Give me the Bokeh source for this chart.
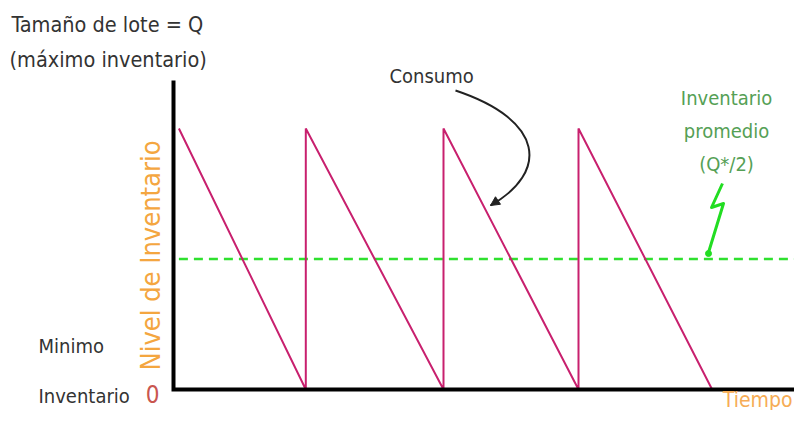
from bokeh.plotting import figure
from bokeh.models import Range1d, Arrow, NormalHead
from bokeh.core.properties import value
from bokeh.embed import file_html
from bokeh.resources import INLINE

# ---- data ----
restock_times = [0.4, 9.8, 9.8, 20.0, 20.0, 30.0, 30.0, 39.9]
inventory_levels = [100, 0, 100, 0, 100, 0, 100, 0]
avg_level = [50, 50]
avg_times = [0.4, 46.5]
axis_times = [0, 0, 46.6]
axis_levels = [118.4, 0, 0]

W, H = 794, 410
# pixel <-> data helpers (image pixel coordinates for annotations)
X0, PXT = 173.0, 13.5      # x pixel at t=0, pixels per time unit
Y0, PYL = 389.0, 2.61      # y pixel at level 0, pixels per level unit
def tx(X):
    return (X - X0) / PXT
def ly(Y):
    return (Y0 - Y) / PYL

p = figure(width=W, height=H, output_backend="svg", toolbar_location=None,
           x_range=Range1d(tx(0), tx(W)), y_range=Range1d(ly(H), ly(0)),
           min_border=0)
p.axis.visible = False
p.grid.visible = False
p.outline_line_color = None
p.background_fill_color = "white"

FONT = value("'Liberation Sans Narrow', 'DejaVu Sans Condensed', 'Liberation Sans', sans-serif")

# average line
p.line(avg_times, avg_level, line_color="#2fe02f", line_width=2.5, line_dash="9 6")
# sawtooth
p.line(restock_times, inventory_levels, line_color="#c8206e", line_width=2)
# axes
p.line(axis_times, axis_levels, line_color="black", line_width=4, line_join="miter")

def txt(X, Y, s, size, color, align="left", angle=0.0, baseline="middle"):
    p.text(x=[tx(X)], y=[ly(Y)], text=[s], text_font=FONT,
           text_font_size=value(f"{size}px"), text_color=color,
           text_align=align, text_baseline=baseline, angle=angle)

dark = "#333333"
txt(11, 24, "Tamaño de lote = Q", 21.5, dark)
txt(9, 59, "(máximo inventario)", 21.5, dark)
txt(389, 75, "Consumo", 20, dark)
green_txt = "#55a055"
txt(726, 97, "Inventario", 20, green_txt, "center")
txt(726, 130, "promedio", 20, green_txt, "center")
txt(726, 163, "(Q*/2)", 20, green_txt, "center")
txt(150, 255, "Nivel de Inventario", 27, "#f4a640", "center", angle=1.5708)
txt(38, 345, "Minimo", 20, dark)
txt(38, 395, "Inventario", 20, dark)
txt(152, 393, "0", 24, "#c9564f", "center")
txt(792, 411, "Tiempo", 21, "#f6ac55", "right", baseline="bottom")

# curved arrow from "Consumo"
sx, sy = 455, 90
c0x, c0y = 545, 120
c1x, c1y = 548, 172
ex, ey = 490, 205
p.bezier(x0=[tx(sx)], y0=[ly(sy)], x1=[tx(ex)], y1=[ly(ey)],
         cx0=[tx(c0x)], cy0=[ly(c0y)], cx1=[tx(c1x)], cy1=[ly(c1y)],
         line_color="#222222", line_width=2)
p.add_layout(Arrow(end=NormalHead(size=9, fill_color="#222222", line_color="#222222"),
                   x_start=tx(ex + 6), y_start=ly(ey - 4), x_end=tx(ex), y_end=ly(ey),
                   line_color="#222222", line_width=2))

# green zig-zag pointer
zx = [722, 711, 723, 708]
zy = [183, 207, 203, 252]
p.line([tx(v) for v in zx], [ly(v) for v in zy], line_color="#22dd22", line_width=3, line_join="round")
p.scatter([tx(708)], [ly(253)], size=6, color="#22dd22")

open("out.html", "w").write(file_html(p, INLINE))
